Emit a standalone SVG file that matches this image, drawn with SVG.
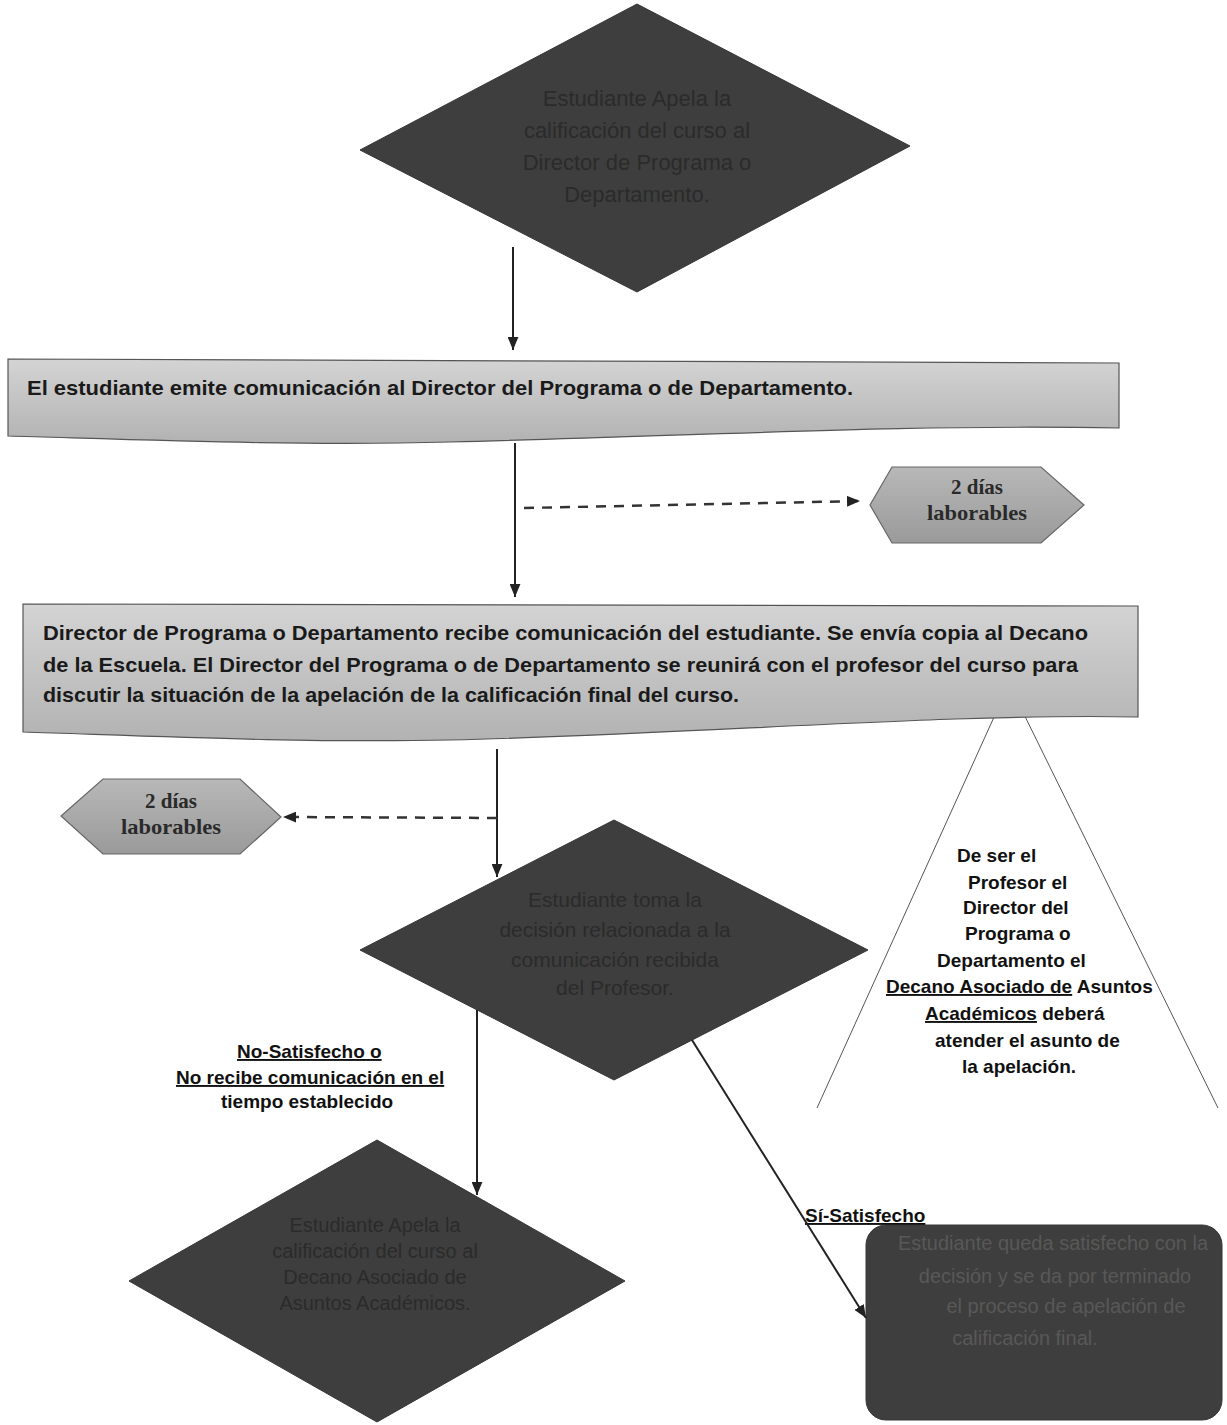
<svg xmlns="http://www.w3.org/2000/svg" width="1227" height="1425" viewBox="0 0 1227 1425">
<style>
.dark{fill:#3e3e3e;stroke:#363636;stroke-width:1}
.dtxt{font-family:"Liberation Sans",Arial,sans-serif;fill:#2b2b2b;text-anchor:middle}
.rtxt{font-family:"Liberation Sans",Arial,sans-serif;font-size:20px;fill:#585858;text-anchor:middle}
.box{fill:url(#boxg);stroke:#555;stroke-width:1.2}
.btxt{font-family:"Liberation Sans",Arial,sans-serif;font-weight:bold;font-size:21px;fill:#1a1a1a}
.hex{fill:url(#hexg);stroke:#666;stroke-width:1.2}
.htxt{font-family:"Liberation Serif","Times New Roman",serif;font-weight:bold;font-size:21px;fill:#2a2a2a;text-anchor:middle}
.lbl{font-family:"Liberation Sans",Arial,sans-serif;font-weight:bold;font-size:19px;fill:#111}
.tri{font-family:"Liberation Sans",Arial,sans-serif;font-weight:bold;font-size:19px;fill:#111}
.solid{stroke:#222;stroke-width:2;fill:none}
.dash{stroke:#333;stroke-width:2.5;fill:none;stroke-dasharray:10 8}
.thin{stroke:#555;stroke-width:1;fill:none}
</style>
<defs>
<linearGradient id="boxg" x1="0" y1="0" x2="0" y2="1">
<stop offset="0" stop-color="#d4d4d4"/>
<stop offset="1" stop-color="#b2b2b2"/>
</linearGradient>
<linearGradient id="hexg" x1="0" y1="0" x2="0" y2="1">
<stop offset="0" stop-color="#b8b8b8"/>
<stop offset="1" stop-color="#9a9a9a"/>
</linearGradient>
<marker id="ah" viewBox="0 0 12 10" refX="12" refY="5" markerWidth="13" markerHeight="11" markerUnits="userSpaceOnUse" orient="auto">
<path d="M0,0 L12,5 L0,10 Z" fill="#222"/>
</marker>
</defs>
<rect width="1227" height="1425" fill="#ffffff"/>

<g id="note-triangle">
<path class="thin" d="M817,1108 L1009,684 L1218,1108"/>
<text class="tri" x="957" y="862">De ser el</text>
<text class="tri" x="968" y="889">Profesor el</text>
<text class="tri" x="963" y="914">Director del</text>
<text class="tri" x="965" y="940">Programa o</text>
<text class="tri" x="937" y="967">Departamento el</text>
<text class="tri" x="886" y="993"><tspan text-decoration="underline">Decano Asociado de</tspan> Asuntos</text>
<text class="tri" x="925" y="1020"><tspan text-decoration="underline">Académicos</tspan> deberá</text>
<text class="tri" x="935" y="1047">atender el asunto de</text>
<text class="tri" x="962" y="1073">la apelación.</text>
</g>

<g id="start-diamond">
<polygon class="dark" points="637,4 910,146 637,292 360,150"/>
<text class="dtxt" font-size="22" x="637" y="106">Estudiante Apela la</text>
<text class="dtxt" font-size="22" x="637" y="138">calificación del curso al</text>
<text class="dtxt" font-size="22" x="637" y="170">Director de Programa o</text>
<text class="dtxt" font-size="22" x="637" y="202">Departamento.</text>
</g>

<g id="box-emite">
<path class="box" d="M8,359 L1119,363 L1119,428 C900,424 700,436 450,442 C300,446 150,440 8,436 Z"/>
<text class="btxt" x="27" y="395" textLength="826" lengthAdjust="spacingAndGlyphs">El estudiante emite comunicación al Director del Programa o de Departamento.</text>
</g>

<g id="hex-2dias-a">
<polygon class="hex" points="892,467 1041,467 1084,505 1041,543 892,543 870,505"/>
<text class="htxt" x="977" y="494">2 días</text>
<text class="htxt" x="977" y="520" textLength="100" lengthAdjust="spacingAndGlyphs">laborables</text>
</g>

<g id="box-recibe">
<path class="box" d="M23,604 L1138,606 L1138,717 C950,713 700,734 450,740 C300,743 150,736 23,732 Z"/>
<text class="btxt" x="43" y="640" textLength="1045" lengthAdjust="spacingAndGlyphs">Director de Programa o Departamento recibe comunicación del estudiante. Se envía copia al Decano</text>
<text class="btxt" x="43" y="672" textLength="1035" lengthAdjust="spacingAndGlyphs">de la Escuela. El Director del Programa o de Departamento se reunirá con el profesor del curso para</text>
<text class="btxt" x="43" y="702" textLength="696" lengthAdjust="spacingAndGlyphs">discutir la situación de la apelación de la calificación final del curso.</text>
</g>

<g id="hex-2dias-b">
<polygon class="hex" points="103,779 240,779 281,817 240,854 103,854 61,816"/>
<text class="htxt" x="171" y="808">2 días</text>
<text class="htxt" x="171" y="834" textLength="100" lengthAdjust="spacingAndGlyphs">laborables</text>
</g>

<g id="decision-diamond">
<polygon class="dark" points="614,820 868,950 614,1080 360,950"/>
<text class="dtxt" font-size="21" x="615" y="907">Estudiante toma la</text>
<text class="dtxt" font-size="21" x="615" y="937">decisión relacionada a la</text>
<text class="dtxt" font-size="21" x="615" y="967">comunicación recibida</text>
<text class="dtxt" font-size="21" x="615" y="995">del Profesor.</text>
</g>

<g id="appeal-dean-diamond">
<polygon class="dark" points="377,1140 625,1281 377,1422 129,1281"/>
<text class="dtxt" font-size="20" x="375" y="1232">Estudiante Apela la</text>
<text class="dtxt" font-size="20" x="375" y="1258">calificación del curso al</text>
<text class="dtxt" font-size="20" x="375" y="1284">Decano Asociado de</text>
<text class="dtxt" font-size="20" x="375" y="1310">Asuntos Académicos.</text>
</g>

<g id="satisfied-box">
<rect class="dark" x="866" y="1225" width="356" height="195" rx="20" ry="20"/>
<text class="rtxt" x="1053" y="1250">Estudiante queda satisfecho con la</text>
<text class="rtxt" x="1055" y="1283">decisión y se da por terminado</text>
<text class="rtxt" x="1066" y="1313">el proceso de apelación de</text>
<text class="rtxt" x="1025" y="1345">calificación final.</text>
</g>

<g id="labels">
<text class="lbl" x="237" y="1058" text-decoration="underline">No-Satisfecho o</text>
<text class="lbl" x="176" y="1084" text-decoration="underline">No recibe comunicación en el</text>
<text class="lbl" x="221" y="1108">tiempo establecido</text>
<text class="lbl" x="805" y="1222" text-decoration="underline">Sí-Satisfecho</text>
</g>

<g id="connectors">
<line class="solid" x1="513" y1="247" x2="513" y2="350" marker-end="url(#ah)"/>
<line class="solid" x1="515" y1="443" x2="515" y2="597" marker-end="url(#ah)"/>
<line class="dash" x1="524" y1="508" x2="860" y2="501" marker-end="url(#ah)"/>
<line class="solid" x1="497" y1="749" x2="497" y2="877" marker-end="url(#ah)"/>
<line class="dash" x1="497" y1="818" x2="283" y2="817" marker-end="url(#ah)"/>
<line class="solid" x1="477" y1="1010" x2="477" y2="1195" marker-end="url(#ah)"/>
<line class="solid" x1="692" y1="1040" x2="866" y2="1318" marker-end="url(#ah)"/>
</g>
</svg>
